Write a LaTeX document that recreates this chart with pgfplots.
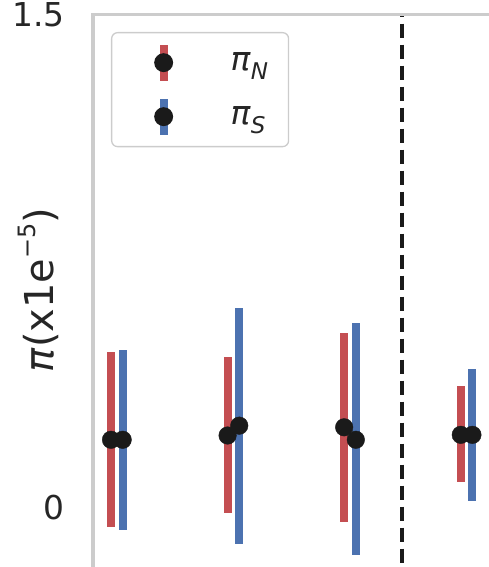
\documentclass[border=0pt]{standalone}
\usepackage{pgfplots}
\pgfplotsset{compat=1.18}
\usepackage{pgfplotstable}
\usepackage{fontspec}
\setmainfont{DejaVu Sans}
\definecolor{cred}{RGB}{196,78,82}
\definecolor{cblue}{RGB}{76,114,176}
\definecolor{cdot}{RGB}{26,26,26}
\definecolor{cspine}{RGB}{204,204,204}
\definecolor{ctext}{RGB}{38,38,38}
\pgfplotstableread{
x y plus minus
-0.05 0.205 0.267 0.265
0.95 0.218 0.239 0.236
1.95 0.243 0.288 0.289
2.95 0.220 0.149 0.145
}\piN
\pgfplotstableread{
x y plus minus
0.05 0.205 0.274 0.276
1.05 0.248 0.357 0.360
2.05 0.205 0.357 0.352
3.05 0.220 0.202 0.203
}\piS
\begin{document}
\begin{tikzpicture}
\begin{axis}[name=ax, scale only axis, width=420bp, height=580bp,
  xmin=-0.2045, xmax=3.398, ymin=-0.267, ymax=1.5,
  axis line style={cspine, line width=3.5bp},
  axis on top,
  xtick=\empty, ytick={0,1.5}, yticklabels={0,1.5},
  major tick length=0pt,
  /pgf/number format/assume math mode=true,
  yticklabel style={anchor=east, inner sep=0pt, xshift=-28bp, font=\fontsize{33}{40}\selectfont, text=ctext},
  ylabel={\textit{π}(x1e\raisebox{18.5bp}{\fontsize{24}{28}\selectfont −5})},
  every axis y label/.style={at={([xshift=-39bp]axis description cs:0,0.5253)}, rotate=90, anchor=base, font=\fontsize{40}{48}\selectfont, text=ctext},
  legend style={at={(axis description cs:0,1)}, anchor=north west, xshift=18bp, yshift=-17.3bp,
    draw=cspine, line width=1.3bp, rounded corners=6bp, fill=white, inner xsep=0pt, inner ysep=3bp,
    nodes={inner sep=0pt, anchor=west}, font=\fontsize{33}{40}\selectfont, text=ctext, row sep=0pt, column sep=0pt},
  legend cell align=left,
]
\addlegendimage{legend image code/.code={
  \path[draw=none, fill=none] (-52bp,-27bp) rectangle (67bp,27bp);
  \draw[cred, line width=8bp, rounded corners=0pt] (0,-18bp) -- (0,18bp);
  \fill[cdot] (0,0) circle (8.8bp);}}
\addlegendentry{\textit{π}\textsubscript{\textit{N}}\hspace*{20bp}}
\addlegendimage{legend image code/.code={
  \path[draw=none, fill=none] (-52bp,-27bp) rectangle (67bp,27bp);
  \draw[cblue, line width=8bp, rounded corners=0pt] (0,-18bp) -- (0,18bp);
  \fill[cdot] (0,0) circle (8.8bp);}}
\addlegendentry{\textit{π}\textsubscript{\textit{S}}\hspace*{20bp}}
\addplot[cdot, line width=4bp, dash pattern=on 14.3bp off 6.7bp, dash phase=12bp, forget plot] coordinates {(2.45,1.5) (2.45,-0.267)};
\addplot[draw=none, forget plot, error bars/.cd, y dir=both, y explicit, error mark=none,
  error bar style={draw=cred, line width=8bp}]
  table[x=x, y=y, y error plus=plus, y error minus=minus]{\piN};
\addplot[only marks, mark=*, mark size=8.8bp, forget plot, mark options={draw=cdot, fill=cdot}]
  table[x=x, y=y]{\piN};
\addplot[draw=none, forget plot, error bars/.cd, y dir=both, y explicit, error mark=none,
  error bar style={draw=cblue, line width=8bp}]
  table[x=x, y=y, y error plus=plus, y error minus=minus]{\piS};
\addplot[only marks, mark=*, mark size=8.8bp, forget plot, mark options={draw=cdot, fill=cdot}]
  table[x=x, y=y]{\piS};
\end{axis}
\pgfresetboundingbox
\path[use as bounding box] ([xshift=-93bp,yshift=14.7bp]ax.north west) rectangle ([xshift=396bp,yshift=-552.3bp]ax.north west);
\end{tikzpicture}
\end{document}
